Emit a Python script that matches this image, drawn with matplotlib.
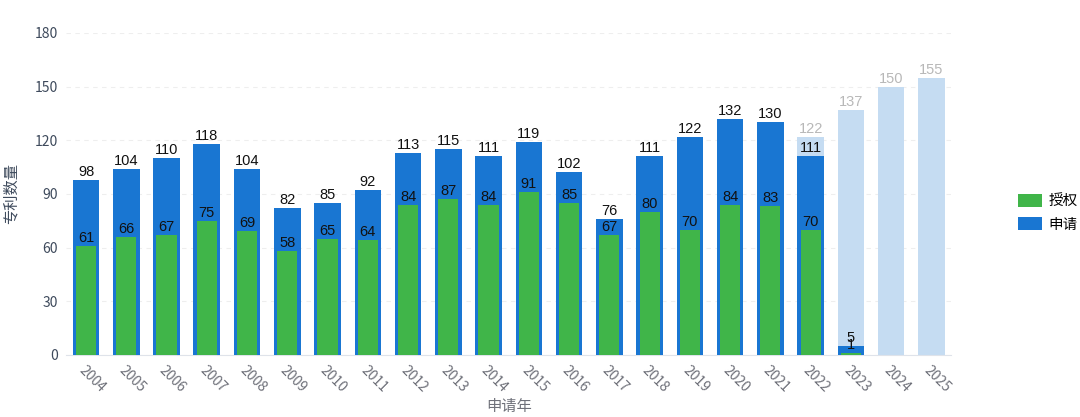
import matplotlib.pyplot as plt
import numpy as np
from matplotlib.patches import Patch

plt.rcParams['font.family'] = ['Noto Sans CJK SC', 'DejaVu Sans']

years = [str(y) for y in range(2004, 2026)]
applied = [98, 104, 110, 118, 104, 82, 85, 92, 113, 115, 111, 119, 102, 76,
           111, 122, 132, 130, 111, 5]
granted = [61, 66, 67, 75, 69, 58, 65, 64, 84, 87, 84, 91, 85, 67,
           80, 70, 84, 83, 70, 1]
forecast_years = ['2022', '2023', '2024', '2025']
forecast = [122, 137, 150, 155]

blue = '#1976d2'
green = '#40b549'
light = '#c5dcf2'

fig = plt.figure(figsize=(10.8, 4.17), dpi=100)
ax = fig.add_axes([0.061, 0.149, 0.82, 0.772])

x = np.arange(len(years))
xf = [years.index(y) for y in forecast_years]
xa = x[:len(applied)]

ax.bar(xf, forecast, width=0.66, color=light, zorder=2)
ax.bar(xa, applied, width=0.66, color=blue, zorder=3)
ax.bar(xa, granted, width=0.5, color=green, zorder=4)

lab_font = ['Liberation Sans', 'DejaVu Sans']
for xi, v in zip(xf, forecast):
    ax.text(xi, v + 0.6, str(v), ha='center', va='bottom', fontsize=10.5,
            color='#b8b8b8', family=lab_font, zorder=6)
for xi, v in zip(xa, applied):
    ax.text(xi, v + 0.6, str(v), ha='center', va='bottom', fontsize=10.5,
            color='#111111', family=lab_font, zorder=6)
for xi, v in zip(xa, granted):
    ax.text(xi, v + 0.6, str(v), ha='center', va='bottom', fontsize=10.5,
            color='#111111', family=lab_font, zorder=6)

ax.set_xlim(-0.5, len(years) - 0.5)
ax.set_ylim(0, 180)
ax.set_yticks(range(0, 181, 30))
ax.set_xticks(x)
ax.set_xticklabels(years, rotation=-45, ha='left', rotation_mode='anchor')
ax.tick_params(axis='x', length=0, pad=6, labelsize=10, colors='#6e7079')
ax.tick_params(axis='y', length=0, pad=6, labelsize=10, colors='#3e4a5c')
ax.grid(axis='y', color='#eeeeee', linestyle=(0, (4, 4)), linewidth=0.8, zorder=0)
for s in ['top', 'right', 'left']:
    ax.spines[s].set_visible(False)
ax.spines['bottom'].set_color('#dfe3ea')

ax.set_ylabel('专利数量', fontsize=11, color='#3e4a5c')
ax.yaxis.set_label_coords(-0.052, 0.5)
ax.set_xlabel('申请年', fontsize=11, color='#6e7079', labelpad=2)

handles = [Patch(facecolor=green, label='授权'), Patch(facecolor=blue, label='申请')]
fig.legend(handles=handles, loc='center left', bbox_to_anchor=(0.93, 0.49),
           frameon=False, fontsize=10.5, handlelength=1.7, handleheight=1.0,
           labelspacing=0.6, handletextpad=0.4)

fig.savefig('out.png', dpi=100)
